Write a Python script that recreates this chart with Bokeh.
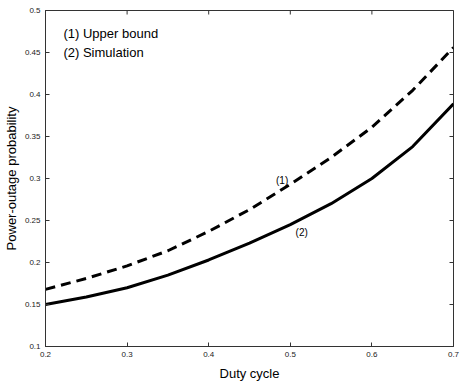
import math
from bokeh.plotting import figure
from bokeh.models import FixedTicker, Label
from bokeh.embed import file_html
from bokeh.resources import INLINE

duty = [0.2, 0.25, 0.3, 0.35, 0.4, 0.45, 0.5, 0.55, 0.6, 0.65, 0.7]
upper_bound = [0.168, 0.181, 0.196, 0.214, 0.237, 0.263, 0.293, 0.325, 0.361, 0.405, 0.456]
simulation = [0.150, 0.159, 0.170, 0.185, 0.203, 0.223, 0.245, 0.270, 0.300, 0.338, 0.389]
x_ticks = [0.2, 0.3, 0.4, 0.5, 0.6, 0.7]
y_ticks = [0.1, 0.15, 0.2, 0.25, 0.3, 0.35, 0.4, 0.45, 0.5]

FONT = "Liberation Sans"
AX = "#333333"

p = figure(width=463, height=386, output_backend="svg", toolbar_location=None,
           x_range=(0.2, 0.7), y_range=(0.1, 0.5),
           x_axis_label="Duty cycle", y_axis_label="Power-outage probability",
           min_border_left=42, min_border_right=10, min_border_top=10, min_border_bottom=40)
p.grid.visible = False
p.outline_line_color = AX
p.background_fill_color = "white"
p.border_fill_color = "white"

for ax, ticks in ((p.xaxis[0], x_ticks), (p.yaxis[0], y_ticks)):
    ax.ticker = FixedTicker(ticks=ticks)
    ax.major_tick_in = 4
    ax.major_tick_out = 0
    ax.minor_tick_line_color = None
    ax.axis_line_color = AX
    ax.major_tick_line_color = AX
    ax.major_label_text_font = FONT
    ax.major_label_text_font_size = "8px"
    ax.major_label_text_color = "#222222"
    ax.axis_label_text_font = FONT
    ax.axis_label_text_font_size = "13px"
    ax.axis_label_text_font_style = "normal"
    ax.axis_label_text_color = "black"
p.xaxis[0].major_label_standoff = 5
p.xaxis[0].axis_label_standoff = 6
p.yaxis[0].major_label_standoff = 5
p.yaxis[0].axis_label_standoff = 3

# inward tick marks on the top and right edges of the box (clipped to the frame)
p.scatter(x_ticks, [0.5] * len(x_ticks), marker="dash", angle=math.pi / 2, size=8,
          line_color=AX, line_width=1)
p.scatter([0.7] * len(y_ticks), y_ticks, marker="dash", size=8,
          line_color=AX, line_width=1)

p.line(duty, upper_bound, line_color="black", line_width=3, line_dash="10 6")
p.line(duty, simulation, line_color="black", line_width=3)

p.add_layout(Label(x=0.49, y=0.298, text="(1)", text_font=FONT, text_font_size="10px",
                   text_color="black", text_align="center", text_baseline="middle"))
p.add_layout(Label(x=0.514, y=0.236, text="(2)", text_font=FONT, text_font_size="10px",
                   text_color="black", text_align="center", text_baseline="middle"))
p.add_layout(Label(x=0.222, y=0.473, text="(1) Upper bound", text_font=FONT,
                   text_color="black", text_font_size="13px", text_baseline="middle"))
p.add_layout(Label(x=0.222, y=0.450, text="(2) Simulation", text_font=FONT,
                   text_color="black", text_font_size="13px", text_baseline="middle"))

open("out.html", "w").write(file_html(p, INLINE))
